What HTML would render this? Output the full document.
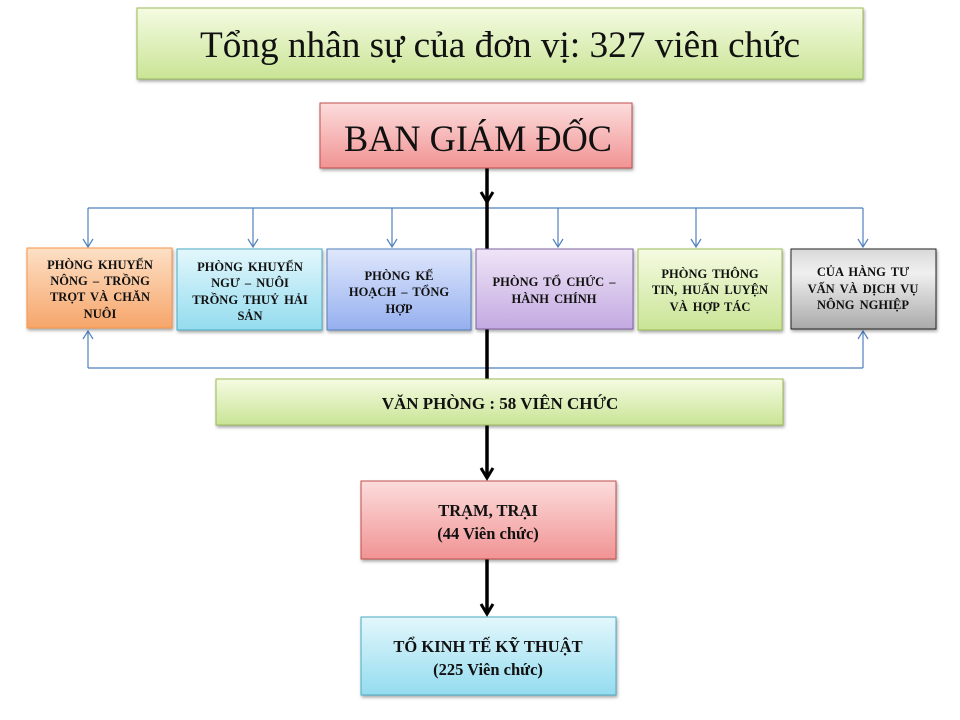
<!DOCTYPE html>
<html><head><meta charset="utf-8"><style>
html,body{margin:0;padding:0;background:#fff;}
svg{display:block;}
text{font-family:"Liberation Serif",serif;fill:#111;}
.s{font-size:12.5px;font-weight:bold;word-spacing:2px;}
</style></head><body>
<svg width="960" height="720" viewBox="0 0 960 720" xmlns="http://www.w3.org/2000/svg">
<defs>
<linearGradient id="gG" x1="0" y1="0" x2="0" y2="1"><stop offset="0" stop-color="#f5fbe2"/><stop offset="1" stop-color="#c9e495"/></linearGradient>
<linearGradient id="gR" x1="0" y1="0" x2="0" y2="1"><stop offset="0" stop-color="#fcdcdc"/><stop offset="1" stop-color="#f19393"/></linearGradient>
<linearGradient id="gO" x1="0" y1="0" x2="0" y2="1"><stop offset="0" stop-color="#fde0c6"/><stop offset="1" stop-color="#f6a56a"/></linearGradient>
<linearGradient id="gC" x1="0" y1="0" x2="0" y2="1"><stop offset="0" stop-color="#e3f7fc"/><stop offset="1" stop-color="#93dcef"/></linearGradient>
<linearGradient id="gB" x1="0" y1="0" x2="0" y2="1"><stop offset="0" stop-color="#dfe7fc"/><stop offset="1" stop-color="#95afef"/></linearGradient>
<linearGradient id="gP" x1="0" y1="0" x2="0" y2="1"><stop offset="0" stop-color="#efe5f7"/><stop offset="1" stop-color="#c3a9e1"/></linearGradient>
<linearGradient id="gY" x1="0" y1="0" x2="0" y2="1"><stop offset="0" stop-color="#d9d9d9"/><stop offset="0.3" stop-color="#f0f0f0"/><stop offset="1" stop-color="#a9a9a9"/></linearGradient>
<filter id="sh" x="-10%" y="-10%" width="120%" height="130%"><feDropShadow dx="1" dy="2" stdDeviation="1.5" flood-color="#000" flood-opacity="0.35"/></filter>
</defs>

<g stroke="#4f81bd" stroke-width="1.2" fill="none">
<path d="M88,208 H863"/>
<path d="M88,208 V247 M253,208 V247 M392,208 V247 M558,208 V247 M696,208 V247 M863,208 V247"/>
<path d="M83,239 L88,247 L93,239 M248,239 L253,247 L258,239 M387,239 L392,247 L397,239 M553,239 L558,247 L563,239 M691,239 L696,247 L701,239 M858,239 L863,247 L868,239"/>
<path d="M88,368 H863 M88,368 V331 M863,368 V331"/>
<path d="M83,339 L88,331 L93,339 M858,339 L863,331 L868,339"/>
</g>

<line x1="487" y1="168" x2="487" y2="380" stroke="#000" stroke-width="3.5"/>
<path d="M481,192 L487,202 L493,192" fill="none" stroke="#000" stroke-width="3"/>
<line x1="487" y1="425" x2="487" y2="478" stroke="#000" stroke-width="3.5"/>
<path d="M481,468 L487,478 L493,468" fill="none" stroke="#000" stroke-width="3"/>
<line x1="487" y1="559" x2="487" y2="614" stroke="#000" stroke-width="3.5"/>
<path d="M481,604 L487,614 L493,604" fill="none" stroke="#000" stroke-width="3"/>

<rect x="137" y="8" width="726" height="71" fill="url(#gG)" stroke="#9bbb59" filter="url(#sh)"/>
<text x="500" y="57" text-anchor="middle" font-size="37" textLength="600" lengthAdjust="spacingAndGlyphs">Tổng nhân sự của đơn vị: 327 viên chức</text>

<rect x="320" y="103" width="312" height="65" fill="url(#gR)" stroke="#c0504d" filter="url(#sh)"/>
<text x="478" y="151" text-anchor="middle" font-size="37" textLength="268" lengthAdjust="spacingAndGlyphs">BAN GIÁM ĐỐC</text>

<rect x="27" y="248" width="145" height="80" fill="url(#gO)" stroke="#f79646" filter="url(#sh)"/>
<text class="s" text-anchor="middle"><tspan x="100" y="269">PHÒNG KHUYẾN</tspan><tspan x="100" y="285">NÔNG – TRỒNG</tspan><tspan x="100" y="301">TRỌT VÀ CHĂN</tspan><tspan x="100" y="318">NUÔI</tspan></text>

<rect x="177" y="249" width="145" height="81" fill="url(#gC)" stroke="#4bacc6" filter="url(#sh)"/>
<text class="s" text-anchor="middle"><tspan x="250" y="271">PHÒNG KHUYẾN</tspan><tspan x="250" y="287">NGƯ – NUÔI</tspan><tspan x="250" y="304">TRỒNG THUỶ HẢI</tspan><tspan x="250" y="320">SẢN</tspan></text>

<rect x="327" y="249" width="144" height="81" fill="url(#gB)" stroke="#4f81bd" filter="url(#sh)"/>
<text class="s" text-anchor="middle"><tspan x="399" y="280">PHÒNG KẾ</tspan><tspan x="399" y="296">HOẠCH – TỔNG</tspan><tspan x="399" y="313">HỢP</tspan></text>

<rect x="476" y="249" width="157" height="80" fill="url(#gP)" stroke="#8064a2" filter="url(#sh)"/>
<text class="s" text-anchor="middle"><tspan x="554" y="286">PHÒNG TỔ CHỨC –</tspan><tspan x="554" y="303">HÀNH CHÍNH</tspan></text>

<rect x="638" y="249" width="144" height="81" fill="url(#gG)" stroke="#9bbb59" filter="url(#sh)"/>
<text class="s" text-anchor="middle"><tspan x="710" y="278">PHÒNG THÔNG</tspan><tspan x="710" y="294">TIN, HUẤN LUYỆN</tspan><tspan x="710" y="311">VÀ HỢP TÁC</tspan></text>

<rect x="791" y="249" width="145" height="80" fill="url(#gY)" stroke="#222" filter="url(#sh)"/>
<text class="s" text-anchor="middle"><tspan x="863" y="276">CỦA HÀNG TƯ</tspan><tspan x="863" y="293">VẤN VÀ DỊCH VỤ</tspan><tspan x="863" y="309">NÔNG NGHIỆP</tspan></text>

<rect x="216" y="379" width="567" height="46" fill="url(#gG)" stroke="#9bbb59" filter="url(#sh)"/>
<text x="500" y="409" text-anchor="middle" font-size="17" font-weight="bold">VĂN PHÒNG : 58 VIÊN CHỨC</text>

<rect x="361" y="481" width="255" height="78" fill="url(#gR)" stroke="#c0504d" filter="url(#sh)"/>
<text text-anchor="middle" font-size="16.5" font-weight="bold"><tspan x="488" y="516">TRẠM, TRẠI</tspan><tspan x="488" y="539">(44 Viên chức)</tspan></text>

<rect x="361" y="617" width="255" height="78" fill="url(#gC)" stroke="#4bacc6" filter="url(#sh)"/>
<text text-anchor="middle" font-size="16.5" font-weight="bold"><tspan x="488" y="652">TỔ KINH TẾ KỸ THUẬT</tspan><tspan x="488" y="675">(225 Viên chức)</tspan></text>
</svg>
</body></html>
